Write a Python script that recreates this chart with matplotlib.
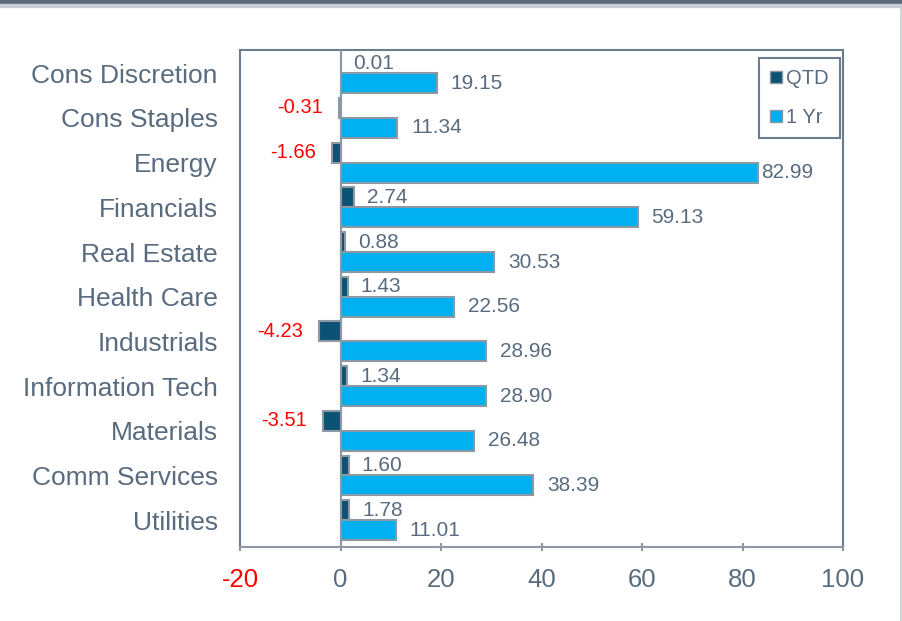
import matplotlib.pyplot as plt
import numpy as np
from matplotlib.patches import Patch, Rectangle
from matplotlib.lines import Line2D

plt.rcParams['font.family'] = ['Liberation Sans', 'DejaVu Sans']

sectors = ["Cons Discretion", "Cons Staples", "Energy", "Financials", "Real Estate",
           "Health Care", "Industrials", "Information Tech", "Materials",
           "Comm Services", "Utilities"]
qtd = [0.01, -0.31, -1.66, 2.74, 0.88, 1.43, -4.23, 1.34, -3.51, 1.60, 1.78]
one_yr = [19.15, 11.34, 82.99, 59.13, 30.53, 22.56, 28.96, 28.90, 26.48, 38.39, 11.01]
xticks = [-20, 0, 20, 40, 60, 80, 100]

TEXT = '#596b7e'
GRID = '#8c98a4'
QTD_COL = '#0b5374'
YR_COL = '#00b0f0'
RED = '#ff0000'

fig = plt.figure(figsize=(9.02, 6.21), dpi=100)
ax = fig.add_axes([240/902, 1-547/621, (843-240)/902, (547-50)/621])

y = np.arange(len(sectors))
h = 0.447
ax.barh(y - h/2, qtd, height=h, color=QTD_COL, edgecolor=GRID, linewidth=1.5, zorder=3)
ax.barh(y + h/2, one_yr, height=h, color=YR_COL, edgecolor=GRID, linewidth=1.5, zorder=3)

for yi, v in zip(y, qtd):
    if v < 0:
        ax.annotate('%.2f' % v, (v, yi - h/2), xytext=(-16, 0), textcoords='offset pixels',
                    ha='right', va='center', color=RED, fontsize=14.5)
    else:
        ax.annotate('%.2f' % v, (v, yi - h/2), xytext=(13, 0), textcoords='offset pixels',
                    ha='left', va='center', color=TEXT, fontsize=15)
for yi, v in zip(y, one_yr):
    off = 4 if v > 80 else 14
    ax.annotate('%.2f' % v, (v, yi + h/2), xytext=(off, 0), textcoords='offset pixels',
                ha='left', va='center', color=TEXT, fontsize=15)

ax.axvline(0, color=GRID, lw=1.5, zorder=4)
ax.set_xlim(-20, 100)
ax.set_ylim(10.6, -0.52)
ax.set_yticks(y)
ax.set_yticklabels(sectors, fontsize=19, color=TEXT)
ax.tick_params(axis='y', length=0, pad=16)
ax.set_xticks(xticks)
ax.set_xticklabels([str(t) for t in xticks], fontsize=18.5, color=TEXT)
ax.get_xticklabels()[0].set_color(RED)
ax.tick_params(axis='x', length=6, width=1.5, color=GRID, direction='inout', pad=12)
for s in ax.spines.values():
    s.set_color('#6b7c8d')
    s.set_linewidth(1.5)
ax.spines['bottom'].set_color(GRID)

handles = [Patch(facecolor=QTD_COL, edgecolor=GRID, label='QTD'),
           Patch(facecolor=YR_COL, edgecolor=GRID, label='1 Yr')]
leg = ax.legend(handles=handles, loc='upper right', bbox_to_anchor=(0.995, 0.984),
                borderaxespad=0, fontsize=14.5, handlelength=0.6, handleheight=0.6,
                handletextpad=0.2, labelspacing=1.0, borderpad=0.55, fancybox=False,
                framealpha=1, labelcolor=TEXT)
leg.get_frame().set_edgecolor('#6b7c8d')
leg.get_frame().set_linewidth(1.5)

# top banner strip and right edge line
fig.patches.append(Rectangle((0, 1-4/621), 1, 4/621, transform=fig.transFigure,
                             color='#5a6b7d', zorder=10))
fig.patches.append(Rectangle((0, 1-6.5/621), 1, 2.5/621, transform=fig.transFigure,
                             color='#c9ced6', zorder=10))
fig.lines.append(Line2D([900.5/902, 900.5/902], [0, 1], transform=fig.transFigure,
                        color='#c9ced6', lw=1.2))

fig.savefig('out.png', dpi=100)
